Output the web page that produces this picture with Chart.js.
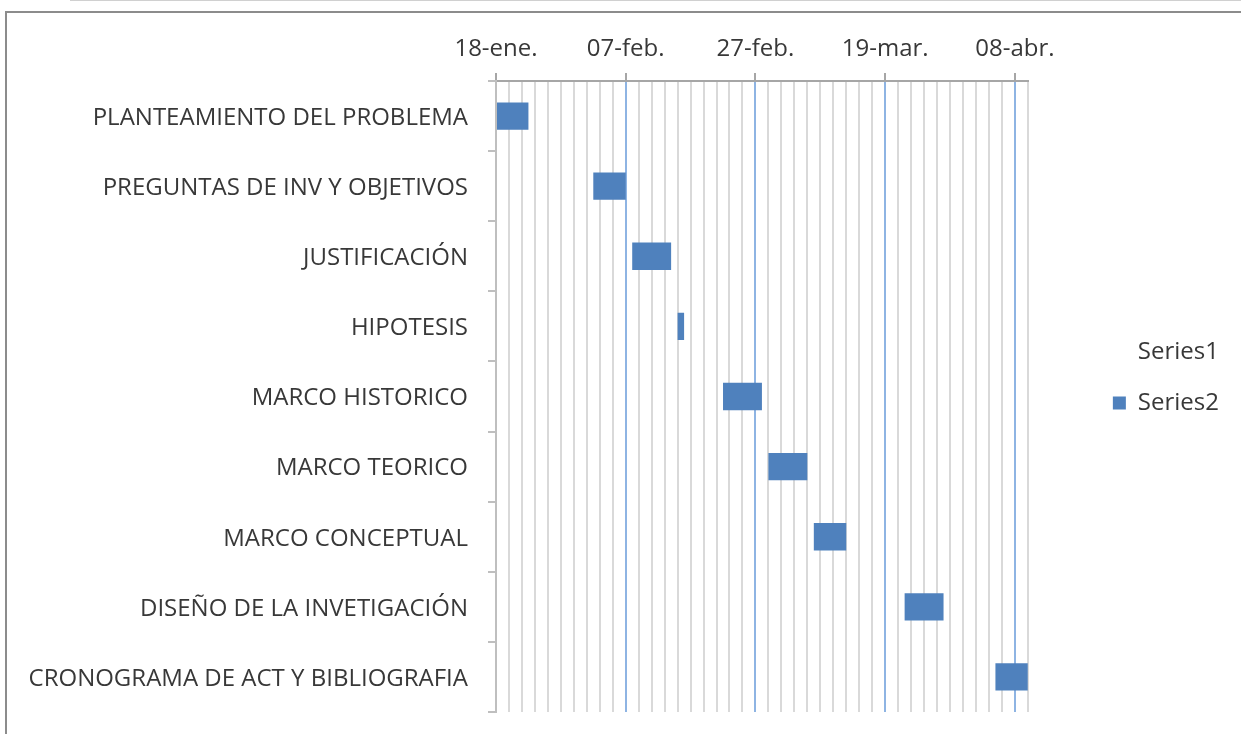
<!DOCTYPE html>
<html>
<head>
<meta charset="utf-8">
<script src="https://cdn.jsdelivr.net/npm/chart.js@4.4.1/dist/chart.umd.min.js"></script>
<style>
  html, body { margin: 0; padding: 0; background: #fff; overflow: hidden; }
  #topline { position: absolute; left: 70px; top: 0; width: 1200px; height: 0; border-top: 1px solid #d0d0d0; }
  #frame { position: absolute; left: 5px; top: 11px; width: 1300px; height: 800px; border: 2px solid #8c8c8c; }
  #c { position: absolute; left: 0; top: 0; }
</style>
</head>
<body>
<div id="topline"></div>
<div id="frame"></div>
<canvas id="c" width="1241" height="734"></canvas>
<script>
// tasks, start day (days after 18-ene.) and length in days
const tasks = [
  'PLANTEAMIENTO DEL PROBLEMA',
  'PREGUNTAS DE INV Y OBJETIVOS',
  'JUSTIFICACIÓN',
  'HIPOTESIS',
  'MARCO HISTORICO',
  'MARCO TEORICO',
  'MARCO CONCEPTUAL',
  'DISEÑO DE LA INVETIGACIÓN',
  'CRONOGRAMA DE ACT Y BIBLIOGRAFIA'
];
const startDays = [0, 15, 21, 28, 35, 42, 49, 63, 77];
const durations = [5, 5, 6, 1, 6, 6, 5, 6, 5];

// date axis
const tickDays = [0, 20, 40, 60, 80];
const tickLabels = ['18-ene.', '07-feb.', '27-feb.', '19-mar.', '08-abr.'];
const axisMin = 0;
const axisMax = 82;

const blue = '#4F81BD';
const majorGrid = '#8EB4E3';
const minorGrid = '#D9D9D9';
const axisGray = '#A6A6A6';

Chart.defaults.font.family = "'Open Sans', sans-serif";
Chart.defaults.font.size = 24;
Chart.defaults.color = '#383838';

const isMajor = v => tickDays.indexOf(v) >= 0;

new Chart(document.getElementById('c'), {
  type: 'bar',
  data: {
    labels: tasks,
    datasets: [
      {
        label: 'Series1',
        data: startDays,
        backgroundColor: 'rgba(0,0,0,0)',
        borderColor: 'rgba(0,0,0,0)',
        borderWidth: 0
      },
      {
        label: 'Series2',
        data: durations,
        backgroundColor: blue,
        borderWidth: 0
      }
    ]
  },
  options: {
    indexAxis: 'y',
    responsive: false,
    animation: false,
    barPercentage: 0.39,
    categoryPercentage: 1,
    layout: { padding: { top: 0, left: 0, right: 12, bottom: 22 } },
    plugins: {
      tooltip: { enabled: false },
      legend: {
        position: 'right',
        title: { display: true, text: '', font: { size: 1 }, padding: { top: 42, bottom: 0 } },
        labels: {
          boxWidth: 13,
          boxHeight: 13,
          padding: 27,
          color: '#383838',
          font: { size: 24 }
        }
      }
    },
    scales: {
      x: {
        type: 'linear',
        position: 'top',
        stacked: true,
        min: axisMin,
        max: axisMax,
        afterFit: s => { s.height = 81; },
        ticks: {
          stepSize: 2,
          autoSkip: false,
          maxTicksLimit: 100,
          maxRotation: 0,
          minRotation: 0,
          padding: 9,
          callback: v => {
            const i = tickDays.indexOf(v);
            return i >= 0 ? tickLabels[i] : '';
          }
        },
        grid: {
          lineWidth: 2,
          tickLength: 8,
          color: c => (c.tick && c.tick.value > 0 && isMajor(c.tick.value)) ? majorGrid : minorGrid,
          tickColor: c => (c.tick && isMajor(c.tick.value)) ? axisGray : 'rgba(0,0,0,0)'
        },
        border: { color: axisGray, width: 2 }
      },
      y: {
        stacked: true,
        afterFit: s => { s.width = 496; s.paddingTop = 0; s.paddingBottom = 0; },
        ticks: { padding: 20, autoSkip: false, labelOffset: 2 },
        grid: {
          drawOnChartArea: false,
          tickLength: 8,
          lineWidth: 2,
          tickColor: '#BFBFBF',
          offset: true
        },
        border: { color: '#BFBFBF', width: 2 }
      },
      spacer: {
        type: 'linear',
        position: 'right',
        afterFit: s => { s.width = 58; s.paddingTop = 0; s.paddingBottom = 0; },
        ticks: { display: false },
        grid: { display: false, drawTicks: false },
        border: { display: false }
      }
    }
  }
});
</script>
</body>
</html>
